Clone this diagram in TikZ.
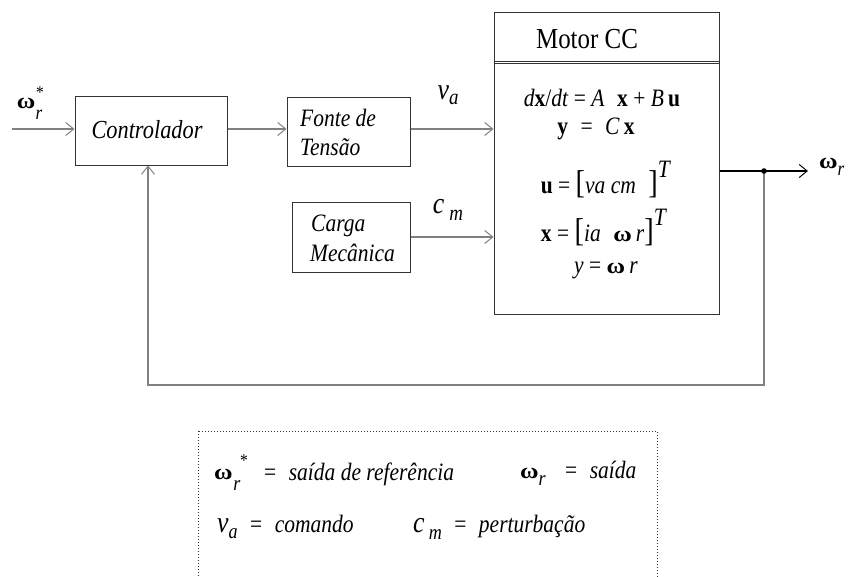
\documentclass[tikz,border=0pt]{standalone}
\usepackage{fontspec}
\usepackage{graphicx}
\setmainfont{Liberation Serif}[FakeStretch=0.86]
\newfontfamily\omfont{Liberation Serif}
\usetikzlibrary{arrows.meta}
\definecolor{lgray}{HTML}{808080}
\definecolor{bgray}{HTML}{333333}
\tikzset{
  blk/.style={draw=bgray, line width=1pt, inner sep=0pt},
  conn/.style={draw=lgray, line width=1.2pt, -{Straight Barb[length=8pt,width=13pt,line width=1pt]}},
  lbl/.style={inner sep=0pt, font=\fontsize{25}{27}\selectfont},
  eq/.style={inner sep=0pt, font=\fontsize{25}{27}\selectfont},
  sub/.style={inner sep=0pt, font=\fontsize{20}{20}\selectfont\itshape},
}
\newcommand{\om}[1][22]{\scalebox{1.15}[1]{\omfont\fontsize{#1}{#1}\selectfont\bfseries ω}}
\newcommand{\fs}[1]{\fontsize{#1}{#1}\selectfont}
\begin{document}
\begin{tikzpicture}[x=1pt,y=-1pt]
\useasboundingbox (0,0) rectangle (848,576);
\clip (0,0) rectangle (848,576);
% blocks
\node[blk, minimum width=152pt, minimum height=69pt] (ctrl) at (151,130.5) {};
\node[lbl, font=\fs{26}\itshape] at (147,130) {Controlador};
\node[blk, minimum width=123pt, minimum height=69pt] (fonte) at (348.5,131.5) {};
\node[lbl, font=\fontsize{25}{29}\selectfont\itshape, align=left, anchor=west] at (300,132) {Fonte de\\Tensão};
\node[blk, minimum width=118pt, minimum height=70pt] (carga) at (351,237) {};
\node[lbl, font=\fontsize{25}{30}\selectfont\itshape, align=left, anchor=west] at (310,238) {\hspace*{1pt}Carga\\Mecânica};
% motor
\node[blk, minimum width=225pt, minimum height=302pt] (motor) at (606.5,163) {};
\draw[draw=bgray, line width=0.8pt] (494,61) -- (719,61) (494,63.5) -- (719,63.5);
\node[lbl, font=\fs{29}] (mtitle) at (587,39) {Motor CC};
\node[eq] (e1) at (602,98) {\textit{d}\textbf{x}/\textit{dt} = \textit{A}\enspace\textbf{x} + \textit{B}\,\textbf{u}};
\node[eq] (e2) at (596,129) {\textbf{y}\enspace=\enspace\textit{C}\,\textbf{x}};
\node[eq] (e3) at (606,180) {\textbf{u} = {\fs{33}[}\textit{va cm}\enspace{\fs{33}]}\raisebox{16pt}{\textit{T}}};
\node[eq] (e4) at (604,228) {\textbf{x} = {\fs{33}[}\textit{ia}\enspace\om\,\textit{r}{\fs{33}]}\raisebox{16pt}{\textit{T}}};
\node[eq] (e5) at (606,270) {\textit{y} = \om\,\textit{r}};
% coordinates
\coordinate (in) at (12,129);
\coordinate (junc) at (764,171);
\coordinate (out) at (808,171);
\coordinate (fb1) at (764,385);
\coordinate (fb2) at (148,385);
% connectors
\draw[conn] (in) -- (ctrl.west |- in);
\draw[conn] (ctrl.east |- 0,129) -- (fonte.west |- 0,129);
\draw[conn] (fonte.east |- 0,129) -- (motor.west |- 0,129);
\draw[conn] (carga.east |- 0,237) -- (motor.west |- 0,237);
\draw[draw=black, line width=1.1pt] (motor.east |- junc) -- (junc);
\draw[draw=black, line width=1.1pt, -{Straight Barb[length=8pt,width=13pt,line width=1pt]}] (junc) -- (out);
\draw[conn] (junc) -- (fb1) -- (fb2) -- (ctrl.south -| fb2);
\fill (junc) circle (2.8pt);
% labels
\node[lbl] (wrs) at (26,103) {\om};
\node[sub] (wrsr) at (39,115) {r};
\node[sub, font=\fs{18}] (wrst) at (40,93) {*};
\node[lbl, font=\fs{30}] (va) at (448,95) {\textit{v}\raisebox{-5pt}{\fs{22}\textit{a}}};
\node[lbl, font=\fs{30}] (cm) at (448,210) {\textit{c}\,\raisebox{-7pt}{\fs{22}\textit{m}}};
\node[lbl, anchor=west] (wr) at (819,167) {\om\raisebox{-7pt}{\fs{20}\textit{r}}};
% legend
\draw[draw=bgray, line width=1pt, dotted] (198,431) rectangle (657,600);
\node[lbl, anchor=west] (l1w) at (214,474) {\om};
\node[sub, font=\fs{21}\itshape] (l1r) at (237,486) {r};
\node[sub, font=\fs{18}] (l1s) at (244,461) {*};
\node[lbl, anchor=west, font=\fs{25}] (l1) at (264,474) {=\enspace\textit{saída de referência}};
\node[lbl, anchor=west, font=\fs{25}] (l2) at (520,473) {\om\raisebox{-7pt}{\fs{21}\textit{r}}\enspace\;=\enspace\textit{saída}};
\node[lbl, anchor=west, font=\fs{25}] (l3) at (217,527) {{\fs{30}\textit{v}}\raisebox{-6pt}{\fs{21}\textit{a}}\enspace=\enspace\textit{comando}};
\node[lbl, anchor=west, font=\fs{25}] (l4) at (413,527) {{\fs{30}\textit{c}}\,\raisebox{-7pt}{\fs{21}\textit{m}}\enspace=\enspace\textit{perturbação}};
\end{tikzpicture}
\end{document}
